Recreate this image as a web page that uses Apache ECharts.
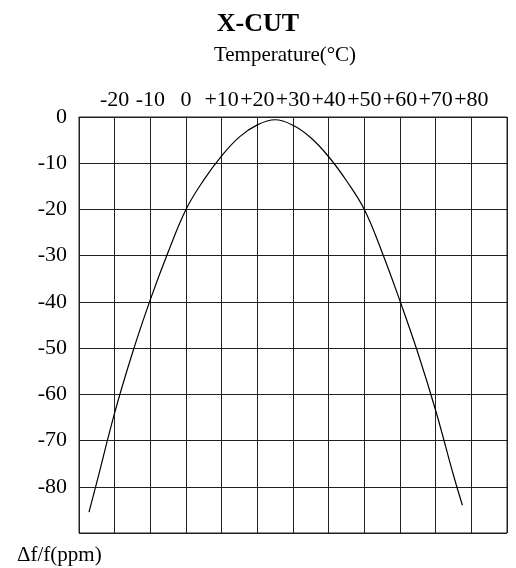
<!DOCTYPE html>
<html>
<head>
<meta charset="utf-8">
<script src="https://cdn.jsdelivr.net/npm/echarts@6/dist/echarts.min.js"></script>
<style>
  html, body { margin: 0; padding: 0; background: #fff; }
  #chart { width: 516px; height: 568px; }
</style>
</head>
<body>
<div id="chart"></div>
<script>
// temperature (°C) and frequency deviation (ppm)
var temps = [-27.2, -25, -20, -15, -10, -5, 0, 5, 10, 15, 20, 25, 30, 35, 40, 45, 50, 55, 60, 65, 70, 75, 77.5];
var ppm = [-85.5, -79, -64, -51, -39.5, -29.2, -20, -13.6, -8.4, -4.3, -1.7, -0.6, -1.8, -4.5, -8.6, -13.8, -20, -29.3, -39.8, -51, -63.5, -77.5, -84];

var xTicks = [-20, -10, 0, 10, 20, 30, 40, 50, 60, 70, 80];
var yTicks = [0, -10, -20, -30, -40, -50, -60, -70, -80];

var FONT = '"Liberation Serif", "DejaVu Serif", serif';

var chart = echarts.init(document.getElementById('chart'));

var points = temps.map(function (t, i) { return [t, ppm[i]]; });

chart.setOption({
    animation: false,
    grid: {
        left: 79, top: 117, right: 9, bottom: 35,
        show: true, borderColor: '#222', borderWidth: 1
    },
    title: [
        { text: 'X-CUT', left: 253, top: 6, textAlign: 'center',
          textStyle: { fontFamily: FONT, fontSize: 26, fontWeight: 'bold', color: '#000' } },
        { text: 'Temperature(°C)', left: 280, top: 40, textAlign: 'center',
          textStyle: { fontFamily: FONT, fontSize: 21, fontWeight: 'normal', color: '#000' } },
        { text: 'Δf/f(ppm)', left: 12, top: 540,
          textStyle: { fontFamily: FONT, fontSize: 21, fontWeight: 'normal', color: '#000' } }
    ],
    xAxis: {
        type: 'value', position: 'top',
        min: -30, max: 90, interval: 10,
        axisLine: { show: true, lineStyle: { color: '#222', width: 1 } },
        axisTick: { show: false },
        splitLine: { show: true, lineStyle: { color: '#222', width: 1 } },
        axisLabel: {
            margin: 6, color: '#000', fontFamily: FONT, fontSize: 22,
            formatter: function (v) {
                if (xTicks.indexOf(v) < 0) return '';
                return v > 0 ? '+' + v : String(v);
            }
        }
    },
    yAxis: {
        type: 'value',
        min: -90, max: 0, interval: 10,
        axisLine: { show: true, lineStyle: { color: '#222', width: 1 } },
        axisTick: { show: false },
        splitLine: { show: true, lineStyle: { color: '#222', width: 1 } },
        axisLabel: {
            margin: 12, color: '#000', fontFamily: FONT, fontSize: 22,
            formatter: function (v) {
                return yTicks.indexOf(v) < 0 ? '' : String(v);
            }
        }
    },
    series: [{
        type: 'line',
        data: points,
        smooth: 0.4,
        showSymbol: false,
        lineStyle: { color: '#000', width: 1.2 }
    }]
});
</script>
</body>
</html>
